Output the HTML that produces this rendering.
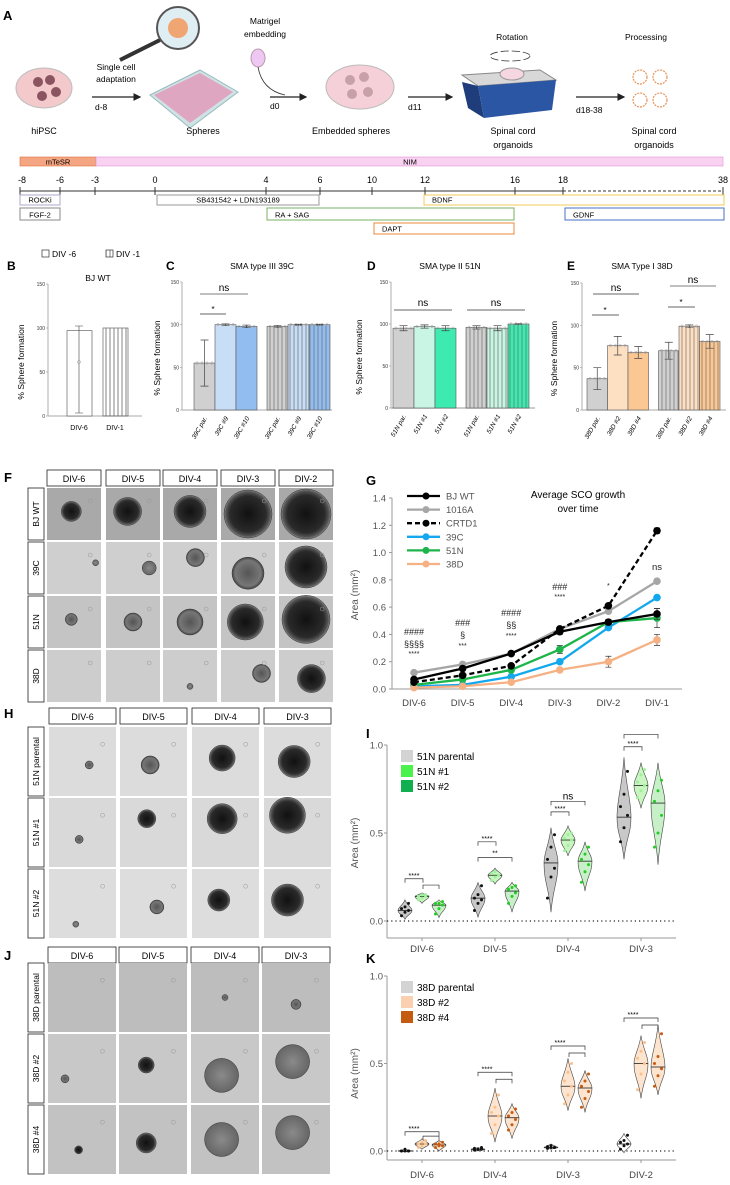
<!DOCTYPE html>
<html><head><meta charset="utf-8"><style>
html,body{margin:0;padding:0;background:#fff}
svg{display:block;font-family:"Liberation Sans",Arial,sans-serif}
</style></head><body>
<svg id="fig" width="730" height="1185" viewBox="0 0 730 1185" xmlns="http://www.w3.org/2000/svg">
<defs>
<radialGradient id="sph" cx="50%" cy="50%" r="50%"><stop offset="0" stop-color="#111"/><stop offset="0.75" stop-color="#2a2a2a"/><stop offset="0.92" stop-color="#555"/><stop offset="1" stop-color="#888"/></radialGradient>
<radialGradient id="sphL" cx="50%" cy="50%" r="50%"><stop offset="0" stop-color="#555"/><stop offset="0.8" stop-color="#777"/><stop offset="1" stop-color="#444"/></radialGradient>
<radialGradient id="sphF" cx="50%" cy="50%" r="50%"><stop offset="0" stop-color="#8a8a8a"/><stop offset="1" stop-color="#666"/></radialGradient>
<pattern id="stripe" width="4" height="4" patternUnits="userSpaceOnUse"><line x1="2" y1="0" x2="2" y2="4" stroke="#666" stroke-width="0.8"/></pattern>
<marker id="arr" markerWidth="6" markerHeight="6" refX="5" refY="3" orient="auto"><path d="M0,0 L6,3 L0,6 z" fill="#222"/></marker>
</defs>

<!-- Panel A -->
<g>
<text x="3" y="20" font-size="13" font-weight="bold">A</text>
<ellipse cx="44" cy="88" rx="28" ry="20" fill="#f4c9cc" stroke="#bbb"/>
<g fill="#8a5560"><circle cx="38" cy="82" r="5"/><circle cx="50" cy="80" r="5"/><circle cx="56" cy="92" r="5"/><circle cx="42" cy="96" r="5"/></g>
<text x="44" y="134" font-size="9" text-anchor="middle">hiPSC</text>
<text x="116" y="70" font-size="8.5" text-anchor="middle">Single cell</text>
<text x="116" y="82" font-size="8.5" text-anchor="middle">adaptation</text>
<line x1="92" y1="97" x2="140" y2="97" stroke="#222" stroke-width="1.3" marker-end="url(#arr)"/>
<text x="95" y="110" font-size="8.5">d-8</text>
<polygon points="150,95 200,70 238,92 190,128" fill="#cfe3e6" stroke="#9bb"/>
<polygon points="154,95 200,73 233,92 190,123" fill="#e58bb0" opacity="0.7"/>
<line x1="120" y1="60" x2="160" y2="40" stroke="#333" stroke-width="4"/>
<circle cx="178" cy="28" r="21" fill="#dfeef3" stroke="#555" stroke-width="2"/>
<circle cx="178" cy="28" r="10" fill="#f0a672"/>
<text x="203" y="134" font-size="9" text-anchor="middle">Spheres</text>
<text x="265" y="24" font-size="8.5" text-anchor="middle">Matrigel</text>
<text x="265" y="37" font-size="8.5" text-anchor="middle">embedding</text>
<ellipse cx="258" cy="58" rx="7" ry="9" fill="#eec7f2" stroke="#b9a"/>
<path d="M258,67 Q262,90 285,95" fill="none" stroke="#333" stroke-width="0.8"/>
<line x1="270" y1="97" x2="306" y2="97" stroke="#222" stroke-width="1.3" marker-end="url(#arr)"/>
<text x="270" y="109" font-size="8.5">d0</text>
<ellipse cx="360" cy="87" rx="34" ry="22" fill="#f6d0d8" stroke="#bbb"/>
<g fill="#c8a0a8"><circle cx="350" cy="80" r="5"/><circle cx="364" cy="77" r="5"/><circle cx="352" cy="94" r="5"/><circle cx="368" cy="92" r="5"/></g>
<text x="351" y="134" font-size="9" text-anchor="middle">Embedded spheres</text>
<line x1="408" y1="97" x2="452" y2="97" stroke="#222" stroke-width="1.3" marker-end="url(#arr)"/>
<text x="408" y="110" font-size="8.5">d11</text>
<polygon points="462,75 540,70 556,80 478,86" fill="#d8d8d8" stroke="#888"/>
<polygon points="462,82 478,86 484,118 468,108" fill="#1f3d7a"/>
<polygon points="478,86 556,80 552,110 484,118" fill="#2b56a3"/>
<ellipse cx="512" cy="74" rx="12" ry="6" fill="#f6d6e0" stroke="#999"/>
<ellipse cx="510" cy="56" rx="20" ry="5" fill="none" stroke="#333" stroke-width="0.8" stroke-dasharray="8 3"/>
<text x="512" y="40" font-size="8.5" text-anchor="middle">Rotation</text>
<text x="513" y="134" font-size="9" text-anchor="middle">Spinal cord</text>
<text x="513" y="148" font-size="9" text-anchor="middle">organoids</text>
<line x1="576" y1="97" x2="624" y2="97" stroke="#222" stroke-width="1.3" marker-end="url(#arr)"/>
<text x="576" y="113" font-size="8.5">d18-38</text>
<text x="646" y="40" font-size="8.5" text-anchor="middle">Processing</text>
<g fill="#fff" stroke="#e8945a" stroke-width="1.2" stroke-dasharray="2 1"><circle cx="640" cy="77" r="7"/><circle cx="660" cy="77" r="7"/><circle cx="640" cy="100" r="7"/><circle cx="660" cy="100" r="7"/></g>
<text x="654" y="134" font-size="9" text-anchor="middle">Spinal cord</text>
<text x="654" y="148" font-size="9" text-anchor="middle">organoids</text>
<rect x="20" y="157" width="76" height="9" fill="#f4a582" stroke="#e07040" stroke-width="0.6"/>
<text x="58" y="164.5" font-size="7.5" text-anchor="middle">mTeSR</text>
<rect x="96" y="157" width="627" height="9" fill="#f8d2f0" stroke="#e090d8" stroke-width="0.6"/>
<text x="410" y="164.5" font-size="7.5" text-anchor="middle">NIM</text>
<g id="timeline"></g>
</g>

<g id="panelsBE"></g>
<g id="photos"></g>
<g id="panelG"></g>
<g id="panelI"></g>
<g id="panelK"></g>
</svg>
<script>
const NS='http://www.w3.org/2000/svg';
function mk(parent,tag,attrs,txt){const e=document.createElementNS(NS,tag);for(const k in attrs)e.setAttribute(k,attrs[k]);if(txt!==undefined)e.textContent=txt;parent.appendChild(e);return e;}

/* ---------- Timeline ---------- */
const tlDays=[-8,-6,-3,0,4,6,10,12,16,18,38];
const tlX=[20,60,95,155,266,320,372,425,515,563,723];
(function(){
const g=document.getElementById('timeline');
mk(g,'line',{x1:20,y1:191,x2:563,y2:191,stroke:'#333','stroke-width':1});
mk(g,'line',{x1:563,y1:191,x2:723,y2:191,stroke:'#333','stroke-width':1,'stroke-dasharray':'3 2'});
tlDays.forEach((d,i)=>{mk(g,'line',{x1:tlX[i],y1:187,x2:tlX[i],y2:195,stroke:'#333'});
const t=mk(g,'text',{x:tlX[i]+(i==0?2:0),y:183,'font-size':9,'text-anchor':'middle'},String(d));
});
const boxes=[['ROCKi',20,195,60,205,'#aac'],['FGF-2',20,208,60,220,'#888'],['SB431542 + LDN193189',157,195,319,205,'#999'],
['BDNF',424,195,724,205,'#f3c85a'],['RA + SAG',267,208,514,220,'#7ab060'],['GDNF',565,208,724,220,'#4472c4'],['DAPT',374,223,514,234,'#ee8a3a']];
boxes.forEach(b=>{const r=mk(g,'rect',{x:b[1],y:b[2],width:b[3]-b[1],height:b[4]-b[2],fill:'#fff',stroke:b[5],'stroke-width':1});

const cx=(b[0]=='BDNF'||b[0]=='GDNF'||b[0]=='RA + SAG'||b[0]=='DAPT')?b[1]+8:(b[1]+b[3])/2;
mk(g,'text',{x:cx,y:b[4]-2.5,'font-size':7.5,'text-anchor':(cx===b[1]+8)?'start':'middle'},b[0]);});
})();

/* ---------- Panels B-E bar charts ---------- */
const bjCats=['DIV-6','DIV-1'];
const bjVals=[97,100];
const c39Cats=['39C par.','39C #9','39C #10','39C par.','39C #9','39C #10'];
const c39Vals=[55,100,98,98,100,100];
const c39Err=[27,1,1.5,1,0.5,0.5];
const d51Cats=['51N par.','51N #1','51N #2','51N par.','51N #1','51N #2'];
const d51Vals=[95,97,95,96,95,100];
const d51Err=[3,2,3,2,3,0.5];
const e38Cats=['38D par.','38D #2','38D #4','38D par.','38D #2','38D #4'];
const e38Vals=[37,76,68,70,99,81];
const e38Err=[13,11,7,10,1.5,8];
(function(){
const G=document.getElementById('panelsBE');
function axisY(g,ax,y0,y150,labelX){
 mk(g,'line',{x1:ax,y1:y150,x2:ax,y2:y0,stroke:'#999','stroke-width':0.8});
 [0,50,100,150].forEach(v=>{const y=y0-(y0-y150)*v/150;mk(g,'line',{x1:ax-2,y1:y,x2:ax,y2:y,stroke:'#999','stroke-width':0.6});
 mk(g,'text',{x:ax-3,y:y+2,'font-size':5,'text-anchor':'end',fill:'#333'},String(v));});
 const t=mk(g,'text',{x:labelX,y:(y0+y150)/2+12,'font-size':8.5,'text-anchor':'middle',transform:`rotate(-90 ${labelX} ${(y0+y150)/2+12})`},'% Sphere formation');
 
}
function bars(g,vals,errs,cats,x0,w,gapIdx,gap,y0,y150,cols,rotLabels){
 const sc=(y0-y150)/150;
 vals.forEach((v,i)=>{const x=x0+i*w+(i>=gapIdx?gap:0);const h=v*sc;
  const r=mk(g,'rect',{x:x,y:y0-h,width:w,height:h,fill:cols[i%3],stroke:'#555','stroke-width':0.6});
  
  if(i>=gapIdx) mk(g,'rect',{x:x,y:y0-h,width:w,height:h,fill:'url(#stripe)',opacity:0.8});
  if(errs){const e=errs[i]*sc;const cx=x+w/2;mk(g,'path',{d:`M${cx},${y0-h-e}V${y0-h+e}M${cx-4},${y0-h-e}H${cx+4}M${cx-4},${y0-h+e}H${cx+4}`,stroke:'#444','stroke-width':0.7,fill:'none'});}
  for(let k=0;k<4;k++) mk(g,'circle',{cx:x+3+k*(w-6)/3,cy:y0-Math.min(100,v)*sc,r:1.3,fill:'none',stroke:'#aaa','stroke-width':0.5});
  if(rotLabels){const lx=x+w/2+3,ly=y0+8;mk(g,'text',{x:lx,y:ly,'font-size':6.5,'font-style':'italic','text-anchor':'end',transform:`rotate(-60 ${lx} ${ly})`},cats[i]);}
 });
}
// B
let g=mk(G,'g',{});
mk(g,'text',{x:7,y:270,'font-size':12,'font-weight':'bold'},'B');
mk(g,'rect',{x:42,y:250,width:7,height:7,fill:'#fff',stroke:'#333','stroke-width':0.7});
mk(g,'text',{x:52,y:257,'font-size':8.5},'DIV -6');
mk(g,'rect',{x:106,y:250,width:7,height:7,fill:'url(#stripe)',stroke:'#333','stroke-width':0.7});
mk(g,'text',{x:116,y:257,'font-size':8.5},'DIV -1');
mk(g,'text',{x:98,y:281,'font-size':8.5,'text-anchor':'middle'},'BJ WT');
axisY(g,48,416,284,24);
mk(g,'line',{x1:48,y1:416,x2:142,y2:416,stroke:'#bbb','stroke-width':1.2});
const bjX=[67,103];
bjVals.forEach((v,i)=>{const h=v*(132/150);const r=mk(g,'rect',{x:bjX[i],y:416-h,width:25,height:h,fill:i?'url(#stripe)':'#fff',stroke:'#666','stroke-width':0.7});
 
 mk(g,'text',{x:bjX[i]+12,y:430,'font-size':7,'text-anchor':'middle'},bjCats[i]);});
mk(g,'path',{d:'M79,413V326M75,413H83M75,326H83',stroke:'#444','stroke-width':0.6});
mk(g,'circle',{cx:79,cy:362,r:1.5,fill:'none',stroke:'#999','stroke-width':0.5});
// C
g=mk(G,'g',{});
mk(g,'text',{x:166,y:270,'font-size':12,'font-weight':'bold'},'C');
mk(g,'text',{x:262,y:269,'font-size':8.5,'text-anchor':'middle'},'SMA type III 39C');
axisY(g,182,410,282,160);
mk(g,'line',{x1:182,y1:410,x2:332,y2:410,stroke:'#bbb','stroke-width':1.2});
bars(g,c39Vals,c39Err,c39Cats,194,21,3,10,410,282,['#d0d0d0','#c8ddf6','#92bdf0'],true);
mk(g,'line',{x1:200,y1:314,x2:226,y2:314,stroke:'#333','stroke-width':0.8});mk(g,'text',{x:213,y:312,'font-size':8,'text-anchor':'middle'},'*');
mk(g,'line',{x1:200,y1:294,x2:248,y2:294,stroke:'#999','stroke-width':1.2});mk(g,'text',{x:224,y:291,'font-size':10,'text-anchor':'middle'},'ns');
// D
g=mk(G,'g',{});
mk(g,'text',{x:367,y:270,'font-size':12,'font-weight':'bold'},'D');
mk(g,'text',{x:450,y:269,'font-size':8.5,'text-anchor':'middle'},'SMA type II 51N');
axisY(g,391,408,282,362);
mk(g,'line',{x1:391,y1:408,x2:535,y2:408,stroke:'#bbb','stroke-width':1.5});
bars(g,d51Vals,d51Err,d51Cats,393,21,3,10,408,282,['#d0d0d0','#c8f5e4','#3debb0'],true);
mk(g,'line',{x1:394,y1:310,x2:452,y2:310,stroke:'#333','stroke-width':0.8});mk(g,'text',{x:423,y:306,'font-size':10,'text-anchor':'middle'},'ns');
mk(g,'line',{x1:467,y1:310,x2:525,y2:310,stroke:'#333','stroke-width':0.8});mk(g,'text',{x:496,y:306,'font-size':10,'text-anchor':'middle'},'ns');
// E
g=mk(G,'g',{});
mk(g,'text',{x:567,y:270,'font-size':12,'font-weight':'bold'},'E');
mk(g,'text',{x:642,y:269,'font-size':8.5,'text-anchor':'middle'},'SMA Type I 38D');
axisY(g,582,410,283,557);
mk(g,'line',{x1:582,y1:410,x2:726,y2:410,stroke:'#bbb','stroke-width':1.2});
bars(g,e38Vals,e38Err,e38Cats,587,20.5,3,10,410,283,['#d0d0d0','#fde0c2','#fbc893'],true);
mk(g,'line',{x1:592,y1:315,x2:619,y2:315,stroke:'#333','stroke-width':0.8});mk(g,'text',{x:605,y:313,'font-size':8,'text-anchor':'middle'},'*');
mk(g,'line',{x1:593,y1:294,x2:639,y2:294,stroke:'#333','stroke-width':0.8});mk(g,'text',{x:616,y:291,'font-size':10,'text-anchor':'middle'},'ns');
mk(g,'line',{x1:668,y1:307,x2:695,y2:307,stroke:'#333','stroke-width':0.8});mk(g,'text',{x:681,y:305,'font-size':8,'text-anchor':'middle'},'*');
mk(g,'line',{x1:670,y1:286,x2:716,y2:286,stroke:'#999','stroke-width':1.2});mk(g,'text',{x:693,y:283,'font-size':10,'text-anchor':'middle'},'ns');
})();

/* ---------- Photo grids F, H, J ---------- */
(function(){
const P=document.getElementById('photos');
function grid(name,label,lx,ly,cols,w,rows,h,hdrY,hdrs,rowLabels,cells,bgs){
 const g=mk(P,'g',{});
 mk(g,'text',{x:lx,y:ly,'font-size':13,'font-weight':'bold'},label);
 hdrs.forEach((t,i)=>{mk(g,'rect',{x:cols[i],y:hdrY,width:w,height:16,fill:'#fff',stroke:'#222','stroke-width':0.8});
  mk(g,'text',{x:cols[i]+w/2,y:hdrY+12,'font-size':9,'text-anchor':'middle'},t);});
 rowLabels.forEach((t,r)=>{mk(g,'rect',{x:28,y:rows[r],width:16,height:h,fill:'#fff',stroke:'#222','stroke-width':0.8});
  const cx=39,cy=rows[r]+h/2;mk(g,'text',{x:cx,y:cy,'font-size':8.5,'text-anchor':'middle',transform:`rotate(-90 ${cx} ${cy})`},t);
  cols.forEach((x,c)=>{const im=mk(g,'rect',{x:x,y:rows[r],width:w,height:h,fill:bgs[r]});
   
   const s=cells[r][c];if(s[0]>0){mk(g,'circle',{cx:x+w*s[1],cy:rows[r]+h*s[2],r:s[0],fill:s[3]==2?'url(#sph)':s[3]==1?'url(#sphL)':'url(#sphF)',stroke:'#333','stroke-width':0.5});}
   mk(g,'circle',{cx:x+w*0.8,cy:rows[r]+h*0.25,r:2,fill:'none',stroke:'#999','stroke-width':0.5});
  });});
}
grid('panel-f','F',4,482,[47,106,163,221,279],54,[488,542,596,650],52,470,['DIV-6','DIV-5','DIV-4','DIV-3','DIV-2'],['BJ WT','39C','51N','38D'],
 [[[10,.45,.45,2],[14,.4,.45,2],[16,.5,.45,2],[24,.5,.5,2],[25,.5,.5,2]],
  [[3,.9,.4,0],[7,.8,.5,0],[9,.6,.3,1],[16,.5,.6,1],[21,.5,.48,2]],
  [[6,.45,.45,1],[9,.5,.5,1],[13,.5,.5,1],[18,.45,.5,2],[24,.5,.45,2]],
  [[0,0,0,0],[0,0,0,0],[3,.5,.7,0],[9,.75,.45,1],[14,.6,.55,2]]],
 ['#a9a9a9','#cfcfcf','#c4c4c4','#cdcdcd']);
grid('panel-h','H',4,718,[49,120,192,264],67,[727,798,869],69,708,['DIV-6','DIV-5','DIV-4','DIV-3'],['51N parental','51N #1','51N #2'],
 [[[4,.6,.55,1],[9,.45,.55,1],[13,.45,.45,2],[16,.45,.5,2]],
  [[4,.45,.6,1],[9,.4,.3,2],[15,.45,.3,2],[18,.35,.25,2]],
  [[3,.4,.8,0],[7,.55,.55,1],[11,.4,.45,2],[16,.35,.45,2]]],
 ['#dcdcdc','#d9d9d9','#dddddd']);
grid('panel-j','J',4,960,[48,119,191,262],68,[963,1034,1105],69,947,['DIV-6','DIV-5','DIV-4','DIV-3'],['38D parental','38D #2','38D #4'],
 [[[0,0,0,0],[0,0,0,0],[3,.5,.5,1],[5,.5,.6,1]],
  [[4,.25,.65,1],[8,.4,.45,2],[17,.45,.6,0],[17,.45,.4,0]],
  [[4,.45,.65,2],[10,.4,.55,2],[17,.45,.5,0],[17,.45,.4,0]]],
 ['#bdbdbd','#c8c8c8','#c2c2c2']);
})();

/* ---------- Panel G line chart ---------- */
const gCats=['DIV-6','DIV-5','DIV-4','DIV-3','DIV-2','DIV-1'];
const gTicks=[0,0.2,0.4,0.6,0.8,1.0,1.2,1.4];
const gSeriesNames=['BJ WT','1016A','CRTD1','39C','51N','38D'];
const bjwt=[0.07,0.15,0.26,0.42,0.49,0.55];
const a1016=[0.12,0.18,0.26,0.44,0.57,0.79];
const crtd1=[0.05,0.10,0.17,0.44,0.61,1.16];
const c39=[0.02,0.03,0.09,0.20,0.45,0.67];
const n51=[0.03,0.07,0.14,0.29,0.49,0.52];
const d38=[0.01,0.02,0.05,0.14,0.20,0.36];
const gErr=[[0.01,0.01,0.01,0.02,0.02,0.04],[0,0,0,0,0,0],[0,0,0,0,0,0.02],[0,0,0,0,0.01,0],[0.01,0.01,0.01,0.03,0.02,0.07],[0,0,0,0.01,0.04,0.04]];
(function(){
const g=document.getElementById('panelG');

const X0=392,X1=682,Y0=689,Y1=498;
const xs=i=>414+i*(657-414)/(gCats.length-1);
const ys=v=>Y0-(Y0-Y1)*v/1.4;
mk(g,'text',{x:366,y:485,'font-size':13,'font-weight':'bold'},'G');
mk(g,'line',{x1:X0,y1:Y1,x2:X0,y2:Y0,stroke:'#999'});
mk(g,'line',{x1:X0,y1:Y0,x2:X1,y2:Y0,stroke:'#999'});
gTicks.forEach(t=>{mk(g,'line',{x1:X0-3,y1:ys(t),x2:X0,y2:ys(t),stroke:'#999'});mk(g,'text',{x:X0-6,y:ys(t)+3.5,'font-size':9.5,'text-anchor':'end',fill:'#555'},t.toFixed(1));});
gCats.forEach((c,i)=>{const t=mk(g,'text',{x:xs(i),y:706,'font-size':9.5,'text-anchor':'middle',fill:'#444'},c);});
const yt=mk(g,'text',{x:358,y:595,'font-size':10,'text-anchor':'middle',fill:'#555',transform:'rotate(-90 358 595)'},'Area (mm²)');

const series=[bjwt,a1016,crtd1,c39,n51,d38];
const cols=['#000','#a6a6a6','#000','#13a8ee','#1db44a','#f5b183'];
const dash=[null,null,'5 3',null,null,null];
const order=[1,3,4,5,0,2];
order.forEach(s=>{const d=series[s].map((v,i)=>(i?'L':'M')+xs(i)+','+ys(v)).join('');
 const p=mk(g,'path',{d:d,fill:'none',stroke:cols[s],'stroke-width':2.3});if(dash[s])p.setAttribute('stroke-dasharray',dash[s]);
 
 series[s].forEach((v,i)=>{const e=gErr[s][i]*(Y0-Y1)/1.4;if(e>0)mk(g,'path',{d:`M${xs(i)},${ys(v)-e}V${ys(v)+e}M${xs(i)-3},${ys(v)-e}H${xs(i)+3}M${xs(i)-3},${ys(v)+e}H${xs(i)+3}`,stroke:'#333','stroke-width':0.7,fill:'none'});
  const c=mk(g,'circle',{cx:xs(i),cy:ys(v),r:3.8,fill:cols[s]});});});
gSeriesNames.forEach((n,s)=>{const y=496+s*13.6;const l=mk(g,'line',{x1:407,y1:y,x2:440,y2:y,stroke:cols[s],'stroke-width':2.3});if(dash[s])l.setAttribute('stroke-dasharray',dash[s]);
 
 mk(g,'circle',{cx:426,cy:y,r:3.5,fill:cols[s]});mk(g,'text',{x:446,y:y+3.5,'font-size':9.5,fill:'#555'},n);});
mk(g,'text',{x:578,y:498,'font-size':10,'text-anchor':'middle'},'Average SCO growth');
mk(g,'text',{x:578,y:512,'font-size':10,'text-anchor':'middle'},'over time');
const ann=[[0,['####','§§§§','****'],[635,647,656]],[1,['###','§','***'],[626,638,648]],[2,['####','§§','****'],[616,628,638]],[3,['###','****'],[590,599]],[4,['*'],[588]],[5,['ns'],[570]]];
ann.forEach(a=>a[1].forEach((t,k)=>mk(g,'text',{x:xs(a[0]),y:a[2][k],'font-size':t=='ns'?9.5:(t.indexOf('*')>=0?7:9),'text-anchor':'middle',fill:'#222'},t)));
})();

/* ---------- Violin panels I and K ---------- */
const iCats=['DIV-6','DIV-5','DIV-4','DIV-3'];
const iNames=['51N parental','51N #1','51N #2'];
const iMin=[[0.01,0.10,0.02],[0.02,0.21,0.05],[0.05,0.37,0.17],[0.35,0.64,0.32]];
const iMed=[[0.06,0.14,0.09],[0.13,0.26,0.17],[0.33,0.46,0.34],[0.59,0.77,0.67]];
const iMax=[[0.12,0.16,0.12],[0.22,0.30,0.22],[0.53,0.54,0.45],[0.93,0.90,0.90]];
const iPts=[[[0.03,0.05,0.06,0.07,0.08,0.1],[0.12,0.13,0.14,0.14,0.15,0.15],[0.04,0.07,0.09,0.1,0.1,0.11]],
 [[0.06,0.1,0.12,0.13,0.15,0.2],[0.23,0.25,0.26,0.27,0.28,0.26],[0.1,0.14,0.16,0.18,0.19,0.2]],
 [[0.13,0.25,0.3,0.35,0.42,0.49],[0.4,0.43,0.46,0.47,0.49,0.5],[0.22,0.28,0.32,0.35,0.38,0.42]],
 [[0.45,0.53,0.6,0.65,0.72,0.85],[0.7,0.74,0.77,0.79,0.83,0.86],[0.42,0.5,0.6,0.68,0.74,0.8]]];
const kCats=['DIV-6','DIV-4','DIV-3','DIV-2'];
const kNames=['38D parental','38D #2','38D #4'];
const kMin=[[-0.005,0.01,0.0],[0.0,0.05,0.07],[0.01,0.23,0.22],[-0.01,0.30,0.32]];
const kMed=[[0.0,0.04,0.035],[0.01,0.20,0.19],[0.02,0.37,0.36],[0.04,0.50,0.48]];
const kMax=[[0.01,0.07,0.06],[0.02,0.36,0.27],[0.04,0.53,0.46],[0.10,0.66,0.72]];
const kPts=[[[0,0,0,0,0.01,0],[0.02,0.03,0.04,0.04,0.05,0.06],[0.02,0.03,0.03,0.04,0.04,0.05]],
 [[0.005,0.01,0.01,0.015,0.01,0.02],[0.1,0.15,0.2,0.22,0.25,0.32],[0.12,0.15,0.18,0.2,0.22,0.24]],
 [[0.015,0.02,0.02,0.025,0.03,0.02],[0.27,0.32,0.37,0.4,0.45,0.5],[0.25,0.3,0.34,0.37,0.4,0.44]],
 [[0.01,0.03,0.04,0.05,0.06,0.09],[0.35,0.44,0.5,0.53,0.57,0.62],[0.37,0.43,0.47,0.5,0.54,0.67]]];
function violinPanel(id,name,label,labY,cats,names,mins,meds,maxs,pts,Y0,Y1,axisB,lblY,legCols,fills,dotCols,sigs){
 const g=document.getElementById(id);
 const X0=387,X1=676;
 const ys=v=>Y0-(Y0-Y1)*v;
 const cx=i=>422+i*73;
 const offs=[-17,0,17];
 mk(g,'text',{x:366,y:labY,'font-size':13,'font-weight':'bold'},label);
 mk(g,'line',{x1:X0,y1:Y1,x2:X0,y2:axisB,stroke:'#999'});
 mk(g,'line',{x1:X0,y1:axisB,x2:X1,y2:axisB,stroke:'#999'});
 mk(g,'line',{x1:X0,y1:Y0,x2:X1,y2:Y0,stroke:'#222','stroke-width':1.2,'stroke-dasharray':'1.2 3'});
 [0,0.5,1.0].forEach(t=>{mk(g,'line',{x1:X0-3,y1:ys(t),x2:X0,y2:ys(t),stroke:'#999'});mk(g,'text',{x:X0-4,y:ys(t)+3.5,'font-size':9.5,'text-anchor':'end',fill:'#555'},t.toFixed(1));});
 cats.forEach((c,i)=>{mk(g,'line',{x1:cx(i),y1:axisB,x2:cx(i),y2:axisB+3,stroke:'#999'});const t=mk(g,'text',{x:cx(i),y:lblY,'font-size':9.5,'text-anchor':'middle',fill:'#444'},c);});
 const yc=(Y0+Y1)/2+10;const yt=mk(g,'text',{x:358,y:yc,'font-size':10,'text-anchor':'middle',fill:'#555',transform:`rotate(-90 358 ${yc})`},'Area (mm²)');
 
 cats.forEach((c,i)=>names.forEach((n,j)=>{
  const x=cx(i)+offs[j];const a=ys(mins[i][j]),m=ys(meds[i][j]),b=ys(maxs[i][j]);const w=7;
  const d=`M${x},${b}C${x+2},${(b+m)/2} ${x+w},${m-(m-b)*0.3} ${x+w},${m}C${x+w},${m+(a-m)*0.4} ${x+2},${(a+m)/2} ${x},${a}C${x-2},${(a+m)/2} ${x-w},${m+(a-m)*0.4} ${x-w},${m}C${x-w},${m-(m-b)*0.3} ${x-2},${(b+m)/2} ${x},${b}Z`;
  const v=mk(g,'path',{d:d,fill:fills[j],stroke:'#444','stroke-width':0.6});
  mk(g,'line',{x1:x-w,y1:m,x2:x+w,y2:m,stroke:'#222','stroke-width':0.8});
  pts[i][j].forEach((p,k)=>{const pt=mk(g,'circle',{cx:x+((k%3)-1)*3.5,cy:ys(p),r:1.5,fill:dotCols[j]});});
 }));
 sigs.forEach(s=>{const i=s[0],y1=s[1],y2=s[2];const x=cx(i);
  mk(g,'path',{d:`M${x-17},${y1+4}V${y1}H${x+17}V${y1+4}`,stroke:'#333',fill:'none','stroke-width':0.7});
  mk(g,'path',{d:`M${x+1},${y2+4}V${y2}H${x+17}V${y2+4}`,stroke:'#333',fill:'none','stroke-width':0.7});
  mk(g,'text',{x:x-8,y:y1-1,'font-size':7,'text-anchor':'middle'},s[3]);
  if(s[4]) mk(g,'text',{x:x,y:y2-2,'font-size':s[4]=='ns'?10:7,'text-anchor':'middle'},s[4]);});
 names.forEach((n,j)=>{const y=Y1+5+j*15;const r=mk(g,'rect',{x:401,y:y,width:12,height:12,fill:legCols[j]});
  mk(g,'text',{x:417,y:y+10,'font-size':10},n);});
}
violinPanel('panelI','panel-i','I',738,iCats,iNames,iMin,iMed,iMax,iPts,921,745,938,952,
 ['#d3d3d3','#4cf24c','#10b050'],['#c8c8c8','#c8f5c0','#c8f0c8'],['#111','#9cf09c','#22cc22'],
 []);
// custom sig brackets for I (two levels: inner **** first pair; outer to third)
(function(){const g=document.getElementById('panelI');const ys=v=>921-176*v;
 const br=[[0,0.14,0.2,'****',null],[1,0.72,0.82,'****','**'],[2,0.995,1.07,'****','ns'],[3,1.45,1.56,'****','']];
 br.forEach(b=>{const x=422+b[0]*73;const yA=ys(b[1]/1.0*0+b[1]);
  const y1=ys(b[1]*1),y2=ys(b[2]*1);});
})();
violinPanel('panelK','panel-k','K',963,kCats,kNames,kMin,kMed,kMax,kPts,1151,976,1160,1178,
 ['#d3d3d3','#fbd0b0','#c55a11'],['#fff','#fde4cf','#fde4cf'],['#111','#fbc08a','#c55a11'],
 [[0,1144-0*0+(-1144+1151-175*0.11),1151-175*0.085,'****'],[1,1151-175*0.45,1151-175*0.41,'****'],[2,1151-175*0.6,1151-175*0.56,'****'],[3,1151-175*0.76,1151-175*0.72,'****']]);
// I brackets
(function(){const g=document.getElementById('panelI');
 const sig=[[0,0.24,0.21,'****',''],[1,0.45,0.36,'****','**'],[2,0.62,0.68,'****','ns'],[3,0.99,1.06,'****','']];
 sig.forEach(s=>{const x=422+s[0]*73;const inner=921-176*s[1];const outer=921-176*s[2];
  if(s[0]==0){mk(g,'path',{d:`M${x-17},${inner+4}V${inner}H${x+1}V${inner+4}`,stroke:'#333',fill:'none','stroke-width':0.7});
   mk(g,'path',{d:`M${x+1},${outer+5}V${outer+1}H${x+17}V${outer+5}`,stroke:'#333',fill:'none','stroke-width':0.7});
   mk(g,'text',{x:x-8,y:inner-1,'font-size':7,'text-anchor':'middle'},'****');return;}
  mk(g,'path',{d:`M${x-17},${inner+4}V${inner}H${x+1}V${inner+4}`,stroke:'#333',fill:'none','stroke-width':0.7});
  mk(g,'text',{x:x-8,y:inner-1,'font-size':7,'text-anchor':'middle'},s[3]);
  mk(g,'path',{d:`M${x-17},${outer+4}V${outer}H${x+17}V${outer+4}`,stroke:'#333',fill:'none','stroke-width':0.7});
  if(s[4]) mk(g,'text',{x:x,y:outer-2,'font-size':s[4]=='ns'?10:7,'text-anchor':'middle'},s[4]);});
})();
</script>
</body></html>
